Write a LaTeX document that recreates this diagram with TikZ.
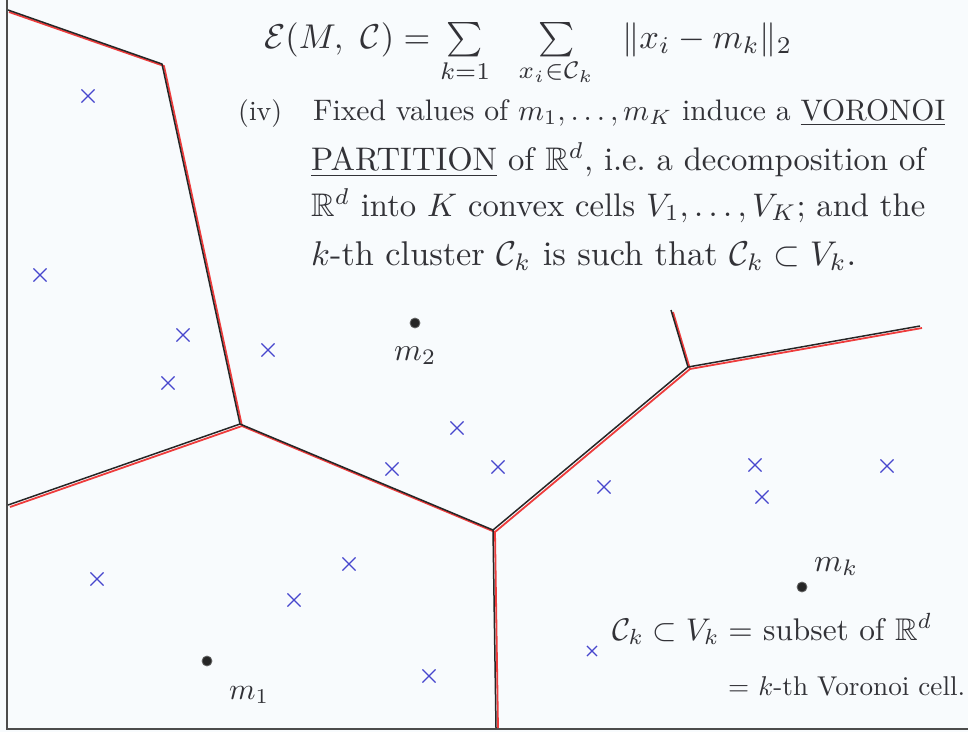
\documentclass[tikz,border=0pt]{standalone}
\usepackage{amsmath,amssymb}
\usepackage{graphicx}
\usetikzlibrary{shapes.misc}

\definecolor{paper}{RGB}{248,251,253}
\definecolor{ink}{RGB}{50,50,55}
\definecolor{penblue}{RGB}{70,70,205}
\definecolor{penred}{RGB}{238,60,60}

\tikzset{
  xpt/.style={draw=penblue, cross out, minimum size=12pt, inner sep=0pt, line width=1.1pt},
  ctr/.style={circle, fill=black!85, draw=black!60, line width=0.8pt, minimum size=10pt, inner sep=0pt},
  edgered/.style={draw=penred, line width=1.8pt, line join=round},
  edgeblk/.style={draw=black!85, line width=1.5pt, line join=round},
  txt/.style={inner sep=0pt, anchor=base west, text=ink},
  frame/.style={draw=black!70, line width=1.4pt}
}

\begin{document}
\begin{tikzpicture}[x=1pt,y=-1pt]
\fill[paper] (0,0) rectangle (968,732);
\useasboundingbox (0,0) rectangle (968,732);

% page frame
\draw[frame] (7,0) -- (7,729) -- (968,729);

% Voronoi edges: red pencil under black pen
\draw[edgered] (9,12) -- (164,66) -- (242,426) -- (10,507)
               (242,426) -- (495,532) -- (498,728)
               (495,532) -- (690,369) -- (673,312)
               (690,369) -- (922,328);
\draw[edgeblk] (8,10) -- (162,64) -- (240,424) -- (8,505)
               (240,424) -- (493,530) -- (496,728)
               (493,530) -- (688,367) -- (671,310)
               (688,367) -- (920,326);

% data points
\node[xpt] (p1) at (88,96) {};
\node[xpt] (p2) at (40,275) {};
\node[xpt] (p3) at (183,335) {};
\node[xpt] (p4) at (168,383) {};
\node[xpt] (p5) at (268,350) {};
\node[xpt] (p6) at (457,428) {};
\node[xpt] (p7) at (392,469) {};
\node[xpt] (p8) at (498,467) {};
\node[xpt] (p9) at (604,487) {};
\node[xpt] (p10) at (755,465) {};
\node[xpt] (p11) at (762,497) {};
\node[xpt] (p12) at (887,466) {};
\node[xpt] (p13) at (97,579) {};
\node[xpt] (p14) at (349,564) {};
\node[xpt] (p15) at (294,600) {};
\node[xpt] (p16) at (429,676) {};
\node[xpt, minimum size=9pt] (p17) at (592,651) {};

% centres
\node[ctr] (m1) at (207,661) {};
\node[ctr] (m2) at (415,323) {};
\node[ctr] (mk) at (802,587) {};
\node[txt] (m1l) at (229,699) {\resizebox{40pt}{!}{$m_1$}};
\node[txt] (m2l) at (394,360) {\resizebox{42pt}{!}{$m_2$}};
\node[txt] (mkl) at (814,571) {\resizebox{44pt}{!}{$m_k$}};

% formula
\node[txt] (formula) at (264,48) {\resizebox{528pt}{!}{$\mathcal{E}(M,\ \mathcal{C}) = \sum\limits_{k=1}\ \ \sum\limits_{x_i\in\mathcal{C}_k}\ \ \|x_i - m_k\|_2$}};

% paragraph (iv)
\node[txt] (iv) at (238,120) {\resizebox{44pt}{!}{(iv)}};
\node[txt] (l1) at (313,120) {\resizebox{632pt}{!}{Fixed values of $m_1,\dots,m_K$ induce a \underline{VORONOI}}};
\node[txt] (l2) at (311,170) {\resizebox{614pt}{!}{\underline{PARTITION} of $\mathbb{R}^d$, i.e.\ a decomposition of}};
\node[txt] (l3) at (311,216) {\resizebox{614pt}{!}{$\mathbb{R}^d$ into $K$ convex cells $V_1,\dots,V_K$; and the}};
\node[txt] (l4) at (311,265) {\resizebox{545pt}{!}{$k$-th cluster $\mathcal{C}_k$ is such that $\mathcal{C}_k\subset V_k$.}};

% bottom right note
\node[txt] (n1) at (612,640) {\resizebox{320pt}{!}{$\mathcal{C}_k\subset V_k =$ subset of $\mathbb{R}^d$}};
\node[txt] (n2) at (728,695) {\resizebox{237pt}{!}{$=$ $k$-th Voronoi cell.}};
\end{tikzpicture}
\end{document}
